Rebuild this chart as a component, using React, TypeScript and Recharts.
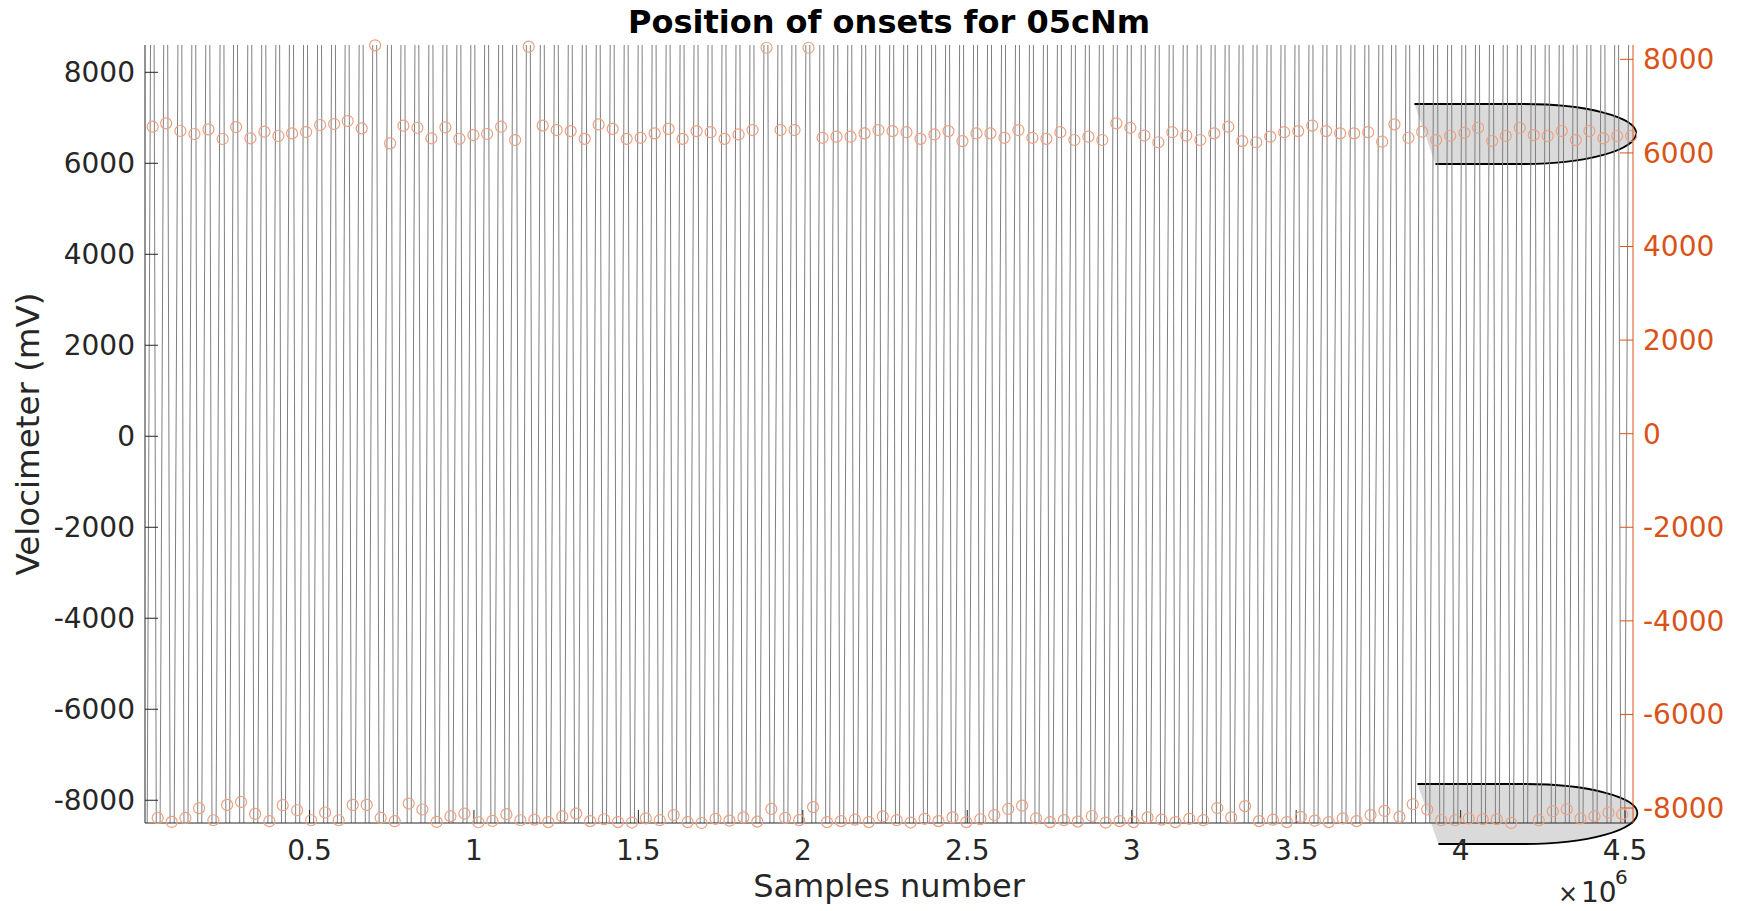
import React from "react";
import { ComposedChart, Line, Scatter, XAxis, YAxis, ReferenceArea } from "recharts";

// axis limits
const X_MAX = 4524000;
const LEFT_MIN = -8500;
const LEFT_MAX = 8600;
const RIGHT_MIN = -8320;
const RIGHT_MAX = 8306;

const xTicks = [500000, 1000000, 1500000, 2000000, 2500000, 3000000, 3500000, 4000000, 4500000];
const leftTicks = [-8000, -6000, -4000, -2000, 0, 2000, 4000, 6000, 8000];
const rightTicks = [-8000, -6000, -4000, -2000, 0, 2000, 4000, 6000, 8000];

// onsets on the positive half-wave (sample number, velocimeter mV)
const peakOnsetX = [
  23400, 64150, 107600, 150200, 192800, 236200, 277000, 320500, 363000, 405600,
  447200, 489800, 532400, 575000, 616300, 658900, 699600, 745200, 785700, 828200,
  870800, 913300, 955900, 998500, 1040100, 1082700, 1125300, 1166600, 1209100, 1251700,
  1294200, 1336800, 1379300, 1421800, 1464400, 1506900, 1549400, 1592000, 1634500, 1677000,
  1719600, 1762100, 1804700, 1847200, 1889700, 1932300, 1974800, 2017300, 2059900, 2102400,
  2145000, 2187500, 2230000, 2272600, 2315100, 2357600, 2400200, 2442700, 2485300, 2527800,
  2570300, 2612900, 2655400, 2697900, 2740500, 2783000, 2825600, 2868100, 2910600, 2953200,
  2995700, 3038200, 3080800, 3123300, 3165900, 3208400, 3250900, 3293500, 3336000, 3378500,
  3421100, 3463600, 3506200, 3548700, 3591200, 3633800, 3676300, 3718800, 3761300, 3798700,
  3841300, 3882900, 3925500, 3968100, 4011600, 4053200, 4095800, 4137100, 4179700, 4222300,
  4264800, 4307400, 4350000, 4391600, 4434200, 4475800, 4518400,
];
const peakOnsetV = [
  6560, 6632, 6468, 6404, 6504, 6297, 6553, 6312, 6453, 6361,
  6418, 6446, 6596, 6617, 6681, 6525, 8300, 6205, 6581, 6538,
  6312, 6547, 6303, 6382, 6404, 6560, 6275, 8270, 6584, 6489,
  6466, 6300, 6608, 6513, 6300, 6323, 6418, 6513, 6300, 6466,
  6442, 6300, 6394, 6489, 8247, 6489, 6489, 8247, 6323, 6347,
  6347, 6418, 6489, 6466, 6442, 6300, 6394, 6466, 6252, 6418,
  6418, 6323, 6489, 6323, 6300, 6442, 6276, 6347, 6276, 6632,
  6537, 6371, 6228, 6442, 6371, 6276, 6418, 6560, 6252, 6228,
  6347, 6442, 6466, 6584, 6466, 6418, 6418, 6442, 6239, 6611,
  6324, 6453, 6275, 6367, 6431, 6538, 6254, 6361, 6538, 6382,
  6361, 6468, 6275, 6468, 6312, 6361, 6361,
];

// onsets on the negative half-wave
const troughOnsetX = [
  38600, 81200, 122800, 164500, 208000, 249600, 292200, 334800, 378200, 418700,
  462500, 505000, 547600, 588900, 631500, 674100, 716600, 759200, 801800, 843400,
  886900, 928600, 971100, 1013700, 1056200, 1098800, 1141400, 1183800, 1226100, 1268500,
  1310900, 1353300, 1395600, 1438000, 1480400, 1522700, 1565100, 1607500, 1649800, 1692200,
  1734600, 1777000, 1819300, 1861700, 1904100, 1946400, 1988800, 2031200, 2073500, 2115900,
  2158300, 2200700, 2243000, 2285400, 2327800, 2370100, 2412500, 2454900, 2497200, 2539600,
  2582000, 2624400, 2666700, 2709100, 2751500, 2793800, 2836200, 2878600, 2920900, 2963300,
  3005700, 3048100, 3090400, 3132800, 3175200, 3217500, 3259900, 3302300, 3344600, 3387000,
  3429400, 3471800, 3514100, 3556500, 3598900, 3641200, 3683600, 3726000, 3768300, 3813900,
  3854400, 3898200, 3940700, 3983300, 4024600, 4067200, 4109800, 4153600, 4196100, 4237500,
  4280100, 4322600, 4364200, 4406800, 4449400, 4491000,
];
const troughOnsetV: (number | null)[] = [
  -8212, -8297, -8212, -8004, -8261, -7934, -7870, -8126, -8282, -7940,
  -8047, -8261, -8096, -8261, -7934, -7934, -8212, -8282, -7904, -8032,
  -8297, -8175, -8118, -8304, -8276, -8132, -8261, -8250, -8300, -8180,
  -8120, -8280, -8240, -8300, -8310, -8220, -8260, -8150, -8300, -8320,
  -8230, -8270, -8200, -8290, -8020, -8210, -8260, -7980, -8300, -8280,
  -8250, -8300, -8180, -8260, -8310, -8230, -8280, -8200, -8300, -8240,
  -8150, -8020, -7950, -8220, -8300, -8260, -8290, -8170, -8310, -8280,
  -8300, -8200, -8250, -8300, -8230, -8260, -8000, -8200, -7960, -8280,
  -8250, -8300, -8190, -8270, -8300, -8220, -8280, -8150, -8062, -8190,
  -7919, -8032, -8261, -8261, -8224, -8240, -8240, -8319, null, -8261,
  -8069, -8026, -8224, -8175, -8096, -8132,
];

// the velocimeter saturates far outside the visible range between onsets
const WAVE_START_X = 0;
const WAVE_HIGH = 20000;
const WAVE_LOW = -20000;

const waveData = [
  { x: WAVE_START_X, v: WAVE_LOW },
  ...peakOnsetX.map((x) => ({ x, v: WAVE_HIGH })),
  ...troughOnsetX.map((x) => ({ x, v: WAVE_LOW })),
].sort((a, b) => a.x - b.x);

const peakData = peakOnsetX.map((x, i) => ({ x, v: peakOnsetV[i] }));
const troughData = troughOnsetX
  .map((x, i) => ({ x, v: troughOnsetV[i] }))
  .filter((d) => d.v !== null);

const AXIS = "#262626";
const ORANGE = "#D95319";
const FONT = "DejaVu Sans";

const tickStyle = { fontFamily: FONT, fontSize: 28, fill: AXIS };

function Bullet(props: any) {
  const { x, y, width, height } = props;
  const slant = 21;
  const rx = 112;
  const xs = x + width - rx;
  const ym = y + height / 2 - 1;
  const top = y;
  const bot = y + height;
  const outline = `M${x},${top} L${xs},${top} A${rx},${ym - top} 0 0 1 ${x + width},${ym} A${rx},${bot - ym} 0 0 1 ${xs},${bot} L${x + slant},${bot}`;
  return (
    <g>
      <path d={outline + " Z"} fill="#d4d4d4" fillOpacity={0.85} stroke="none" />
      <path d={outline} fill="none" stroke="#000" strokeWidth={1.8} />
    </g>
  );
}

const circle = (p: any) => (
  <circle cx={p.cx} cy={p.cy} r={5.5} fill="none" stroke="#EE9F80" strokeWidth={1.2} />
);

export default function App() {
  return (
    <div style={{ position: "absolute", left: 0, top: 0, width: 1742, height: 911, background: "#fff" }}>
      <ComposedChart
        width={1742}
        height={911}
        margin={{ top: 45, right: 9, bottom: 28, left: 5 }}
      >
        <XAxis
          xAxisId="b"
          dataKey="x"
          type="number"
          domain={[0, X_MAX]}
          ticks={xTicks}
          tickFormatter={(v) => String(v / 1e6)}
          tick={tickStyle}
          tickSize={-13}
          tickMargin={30}
          height={60}
          stroke={AXIS}
          tickLine={{ stroke: AXIS }}
          axisLine={{ stroke: AXIS }}
        />
        <XAxis
          xAxisId="t"
          orientation="top"
          dataKey="x"
          type="number"
          domain={[0, X_MAX]}
          ticks={xTicks}
          tickFormatter={() => ""}
          tickSize={-13}
          height={0}
          axisLine={{ stroke: "#8a8a8a" }}
          tickLine={{ stroke: AXIS }}
        />
        <YAxis
          yAxisId="left"
          dataKey="v"
          type="number"
          domain={[LEFT_MIN, LEFT_MAX]}
          allowDataOverflow
          ticks={leftTicks}
          tick={tickStyle}
          tickSize={-13}
          tickMargin={23}
          width={140}
          axisLine={{ stroke: AXIS }}
          tickLine={{ stroke: AXIS }}
        />
        <YAxis
          yAxisId="right"
          orientation="right"
          dataKey="v"
          type="number"
          domain={[RIGHT_MIN, RIGHT_MAX]}
          ticks={rightTicks}
          tick={{ ...tickStyle, fill: ORANGE }}
          tickSize={-13}
          tickMargin={23}
          width={100}
          axisLine={{ stroke: ORANGE }}
          tickLine={{ stroke: ORANGE }}
        />
        <Line
          xAxisId="b"
          yAxisId="left"
          data={waveData}
          dataKey="v"
          type="linear"
          stroke="#7f7f7f"
          strokeWidth={1}
          dot={false}
          activeDot={false}
          isAnimationActive={false}
        />
        <Scatter
          xAxisId="b"
          yAxisId="right"
          data={peakData}
          dataKey="v"
          shape={circle}
          isAnimationActive={false}
        />
        <Scatter
          xAxisId="b"
          yAxisId="right"
          data={troughData}
          dataKey="v"
          shape={circle}
          isAnimationActive={false}
        />
        <ReferenceArea
          xAxisId="b"
          yAxisId="left"
          x1={3859500}
          x2={4533600}
          y1={5984}
          y2={7303}
          ifOverflow="visible"
          shape={Bullet}
        />
        <ReferenceArea
          xAxisId="b"
          yAxisId="left"
          x1={3868700}
          x2={4537400}
          y1={-8962}
          y2={-7643}
          ifOverflow="visible"
          shape={Bullet}
        />
      </ComposedChart>
      <svg
        width={1742}
        height={911}
        style={{ position: "absolute", left: 0, top: 0, pointerEvents: "none" }}
        fontFamily={FONT}
      >
        <text x={889} y={33} textAnchor="middle" fontSize={32} fontWeight="bold" fill="#000">
          Position of onsets for 05cNm
        </text>
        <text
          x={28}
          y={434}
          textAnchor="middle"
          dominantBaseline="central"
          fontSize={32.5}
          fill={AXIS}
          transform="rotate(-90 28 434)"
        >
          Velocimeter (mV)
        </text>
        <text x={889} y={897} textAnchor="middle" fontSize={32} fill={AXIS}>
          Samples number
        </text>
        <text x={1558} y={902} fontSize={24} fill={AXIS}>
          ×
        </text>
        <text x={1581} y={902} fontSize={28} fill={AXIS}>
          10
        </text>
        <text x={1615} y={884} fontSize={20} fill={AXIS}>
          6
        </text>
      </svg>
    </div>
  );
}
